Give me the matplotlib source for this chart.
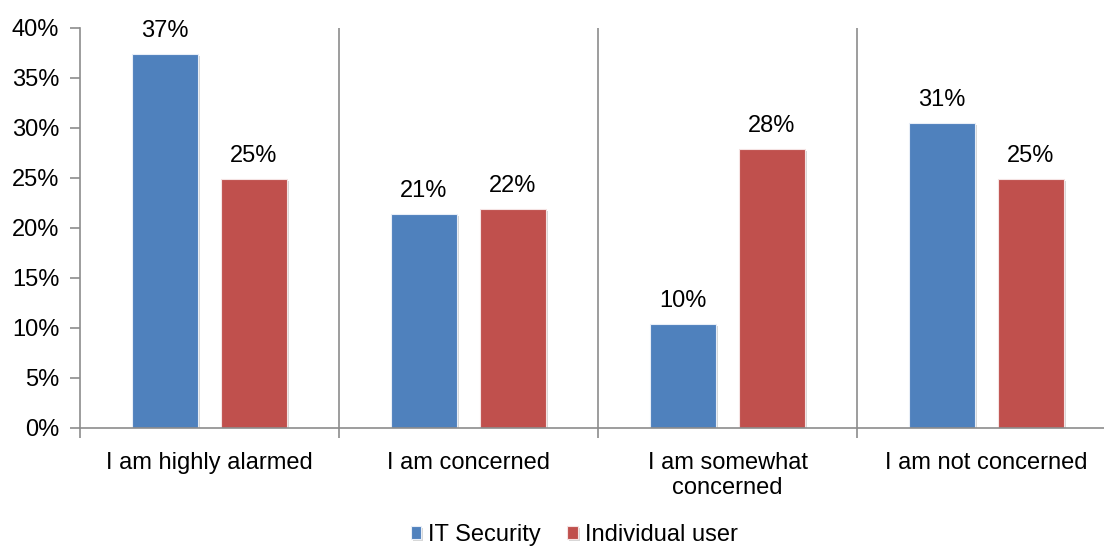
import matplotlib
matplotlib.use('Agg')
import matplotlib.pyplot as plt
import matplotlib.patheffects as pe
import numpy as np

categories = ['I am highly alarmed', 'I am concerned', 'I am somewhat\nconcerned', 'I am not concerned']
it_security = [37.4, 21.4, 10.4, 30.5]
individual_user = [24.9, 21.9, 27.9, 24.9]
it_labels = ['37%', '21%', '10%', '31%']
ind_labels = ['25%', '22%', '28%', '25%']
yticks = [0, 5, 10, 15, 20, 25, 30, 35, 40]

plt.rcParams['font.family'] = ['Liberation Sans', 'DejaVu Sans']
FS = 17

fig = plt.figure(figsize=(11.04, 5.46), dpi=100)
ax = fig.add_axes([80/1104, 1-428/546, 1036/1104, 400/546])

x = np.arange(len(categories))
w = 0.255
off = 0.172
shadow = [pe.SimplePatchShadow(offset=(1.5, -1.5), shadow_rgbFace='#b0b0b0', alpha=0.5), pe.Normal()]
b1 = ax.bar(x - off, it_security, w, color='#4F81BD', edgecolor='#e8eef7', linewidth=0.8,
            label='IT Security', path_effects=shadow)
b2 = ax.bar(x + off, individual_user, w, color='#C0504D', edgecolor='#f5e3e3', linewidth=0.8,
            label='Individual user', path_effects=shadow)

for bars, labs in ((b1, it_labels), (b2, ind_labels)):
    for b, lab in zip(bars, labs):
        ax.text(b.get_x() + b.get_width()/2, b.get_height() + 2.3, lab,
                ha='center', va='center', fontsize=FS, color='black')

# vertical separators between groups
for s in np.arange(0.5, len(categories) - 0.5, 1):
    ax.axvline(s, color='#8c8c8c', linewidth=1.2, zorder=0)

ax.set_xlim(-0.5, len(categories) - 0.5)
ax.set_ylim(0, 40)
ax.set_yticks(yticks)
ax.set_yticklabels([f'{t}%' for t in yticks], fontsize=FS)
ax.set_xticks(np.arange(-0.5, len(categories), 1))
ax.set_xticklabels([])
ax.set_xticks(x, minor=True)
ax.set_xticklabels(categories, minor=True, fontsize=FS, linespacing=1.2)
ax.tick_params(axis='x', which='minor', length=0, pad=17)
ax.tick_params(axis='x', which='major', length=7, color='#8c8c8c', width=1.2)
ax.tick_params(axis='y', length=7, color='#8c8c8c', width=1.2, pad=8)

for sp in ['top', 'right']:
    ax.spines[sp].set_visible(False)
for sp in ['left', 'bottom']:
    ax.spines[sp].set_color('#8c8c8c')
    ax.spines[sp].set_linewidth(1.2)

fig.legend(handles=[b1, b2], labels=['IT Security', 'Individual user'], loc='center',
           bbox_to_anchor=(0.52, 1 - 535/546), ncol=2, frameon=False, fontsize=FS,
           handlelength=0.45, handleheight=0.45, handletextpad=0.3, columnspacing=1.1)

fig.savefig('out.png', dpi=100)
